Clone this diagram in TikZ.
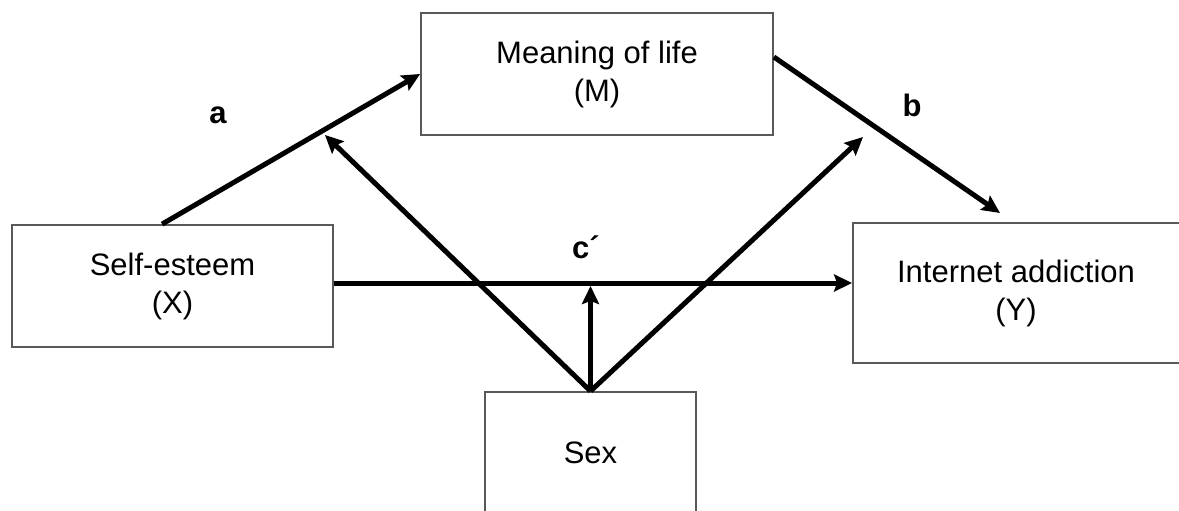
\documentclass[tikz,border=0pt]{standalone}
\usepackage{fontspec}
\setmainfont{Liberation Sans}
\usetikzlibrary{arrows.meta,positioning,calc}

\begin{document}
\begin{tikzpicture}[
  x=1pt, y=-1pt,
  box/.style={rectangle, draw=black!65, line width=1.8pt, inner sep=0pt,
              align=center, font=\fontsize{31}{38}\selectfont},
  lbl/.style={font=\fontsize{31}{38}\selectfont\bfseries},
  arr/.style={-{Stealth[length=18pt,width=17pt,inset=3pt]}, line width=5pt},
]
  \clip (0,0) rectangle (1179,511);

  \node[box, minimum width=352pt, minimum height=122pt] (M) at (597,74) {Meaning of life\\(M)};
  \node[box, minimum width=321pt, minimum height=122pt] (X) at (172.5,286) {Self-esteem\\(X)};
  % right side of Y runs off the page
  \node[box, minimum width=340pt, minimum height=140pt] (Y) at (1023,293)
    {\hspace*{-14pt}Internet addiction\\\hspace*{-14pt}(Y)};
  \node[box, minimum width=211pt, minimum height=122pt] (S) at (590.5,453) {Sex};

  \coordinate (bend) at (1000,213);
  \coordinate (moda) at (325,135);
  \coordinate (modb) at (863,137);
  \coordinate (modc) at (590.5,286);

  \draw[arr] ([xshift=151pt]X.north west) -- (M.west);
  \draw[arr] ([yshift=17pt]M.east) -- (bend);
  \draw[arr] ([yshift=3pt]X.east) -- ([yshift=3pt]X.east -| Y.west);

  \draw[arr] (S.north) -- (moda);
  \draw[arr] (S.north) -- (modb);
  \draw[arr] (S.north) -- (modc);

  \node[lbl] (la) at (218,115) {a};
  \node[lbl] (lb) at (912,105) {b};
  \node[lbl] (lc) at (586,247) {c´};
\end{tikzpicture}
\end{document}
